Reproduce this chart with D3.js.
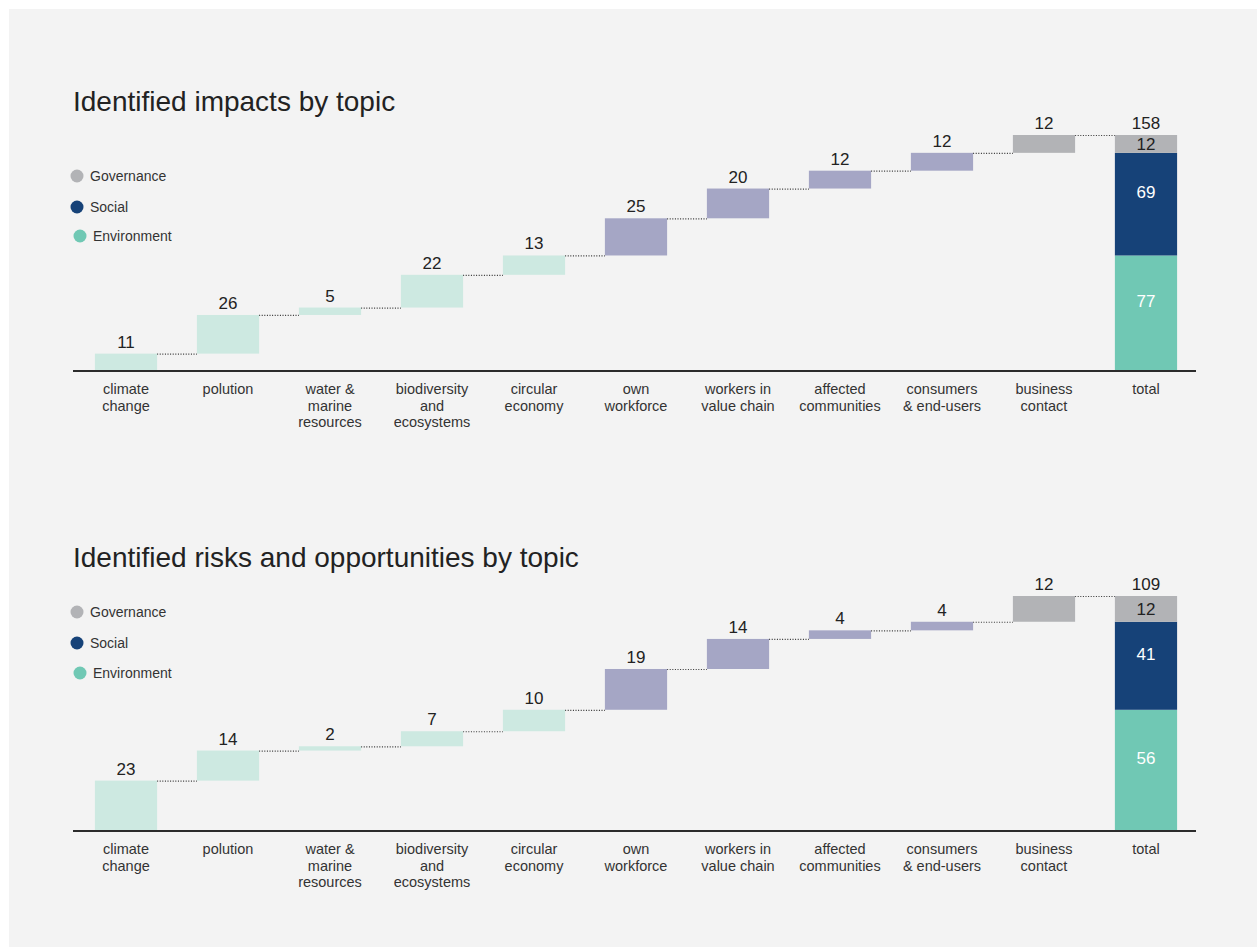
<!DOCTYPE html>
<html>
<head>
<meta charset="utf-8">
<script src="https://cdn.jsdelivr.net/npm/d3@7"></script>
<style>
    body { margin: 0; background: #fff; }
    svg { display: block; font-family: "Liberation Sans", Arial, sans-serif; }
    .chart-title { font-size: 28px; fill: #222; }
    .legend-label { font-size: 14px; fill: #333; }
    .value-label { font-size: 17px; fill: #222; text-anchor: middle; }
    .cat-label { font-size: 14.5px; fill: #333; text-anchor: middle; }
    .connector { stroke: #333; stroke-width: 1.2; stroke-dasharray: 1 1.6; }
    .baseline { stroke: #2b2b2b; stroke-width: 2; }
</style>
</head>
<body>
<script>

// Data ////////////////////////////////////

const categories = [
    "climate\nchange", "polution", "water &\nmarine\nresources", "biodiversity\nand\necosystems",
    "circular\neconomy", "own\nworkforce", "workers in\nvalue chain", "affected\ncommunities",
    "consumers\n& end-users", "business\ncontact"
];
const totalLabel = "total";
const pillars = [
    "Environment", "Environment", "Environment", "Environment", "Environment",
    "Social", "Social", "Social", "Social", "Governance"
];
const legendPillars = ["Governance", "Social", "Environment"];
const impactValues = [11, 26, 5, 22, 13, 25, 20, 12, 12, 12];
const riskValues = [23, 14, 2, 7, 10, 19, 14, 4, 4, 12];

const barColor = { Environment: "#cde9e1", Social: "#a5a6c5", Governance: "#b2b3b6" };
const totalColor = { Environment: "#70c8b4", Social: "#164278", Governance: "#b2b3b6" };
const totalText = { Environment: "#fff", Social: "#fff", Governance: "#222" };

// Layout ////////////////////////////////////

const dim = { width: 1257, height: 949 };

const x = d3.scaleBand()
    .domain([...categories, totalLabel])
    .range([74.5, 1197.5])
    .paddingInner(0.39)
    .paddingOuter(0.2);

const svg = d3.select("body").append("svg")
    .attr("width", dim.width)
    .attr("height", dim.height);

svg.append("rect")
    .attr("x", 9).attr("y", 9)
    .attr("width", dim.width - 9)
    .attr("height", dim.height - 11)
    .style("fill", "#f3f3f3");

drawWaterfall(svg, {
    title: "Identified impacts by topic",
    values: impactValues,
    titleY: 111,
    legendY: [176, 207, 236],
    baseline: 370,
    top: 135
});

drawWaterfall(svg, {
    title: "Identified risks and opportunities by topic",
    values: riskValues,
    titleY: 567,
    legendY: [612, 643, 673],
    baseline: 830,
    top: 596
});

function drawWaterfall(svg, opts) {

    const g = svg.append("g");

    // cumulative steps
    let acc = 0;
    const steps = opts.values.map((v, i) => {
        const s = { cat: categories[i], pillar: pillars[i], value: v, y0: acc, y1: acc + v };
        acc += v;
        return s;
    });
    const total = acc;

    const y = d3.scaleLinear()
        .domain([0, total])
        .range([opts.baseline, opts.top]);

    // title
    g.append("text")
        .attr("class", "chart-title")
        .attr("x", 73)
        .attr("y", opts.titleY)
        .text(opts.title);

    // legend
    const legend = g.append("g")
        .selectAll("g")
        .data(legendPillars)
        .join("g")
        .attr("transform", (d, i) => `translate(${ d === "Environment" ? 80 : 77 }, ${ opts.legendY[i] })`);
    legend.append("circle")
        .attr("r", 6.5)
        .style("fill", d => totalColor[d]);
    legend.append("text")
        .attr("class", "legend-label")
        .attr("x", 13)
        .attr("dy", "0.35em")
        .text(d => d);

    // connectors
    g.append("g")
        .selectAll("line")
        .data(steps)
        .join("line")
        .attr("class", "connector")
        .attr("x1", d => x(d.cat) + x.bandwidth())
        .attr("x2", (d, i) => x(i + 1 < steps.length ? steps[i + 1].cat : totalLabel))
        .attr("y1", d => y(d.y1) + 0.5)
        .attr("y2", d => y(d.y1) + 0.5);

    // floating bars
    g.append("g")
        .selectAll("rect")
        .data(steps)
        .join("rect")
        .attr("x", d => x(d.cat))
        .attr("width", x.bandwidth())
        .attr("y", d => y(d.y1))
        .attr("height", d => y(d.y0) - y(d.y1))
        .style("fill", d => barColor[d.pillar]);

    g.append("g")
        .selectAll("text")
        .data(steps)
        .join("text")
        .attr("class", "value-label")
        .attr("x", d => x(d.cat) + x.bandwidth() / 2)
        .attr("y", d => y(d.y1) - 6)
        .text(d => d.value);

    // total stack
    let base = 0;
    const stack = ["Environment", "Social", "Governance"].map(p => {
        const v = d3.sum(steps.filter(s => s.pillar === p), s => s.value);
        const s = { pillar: p, value: v, y0: base, y1: base + v };
        base += v;
        return s;
    });

    g.append("g")
        .selectAll("rect")
        .data(stack)
        .join("rect")
        .attr("x", x(totalLabel))
        .attr("width", x.bandwidth())
        .attr("y", d => y(d.y1))
        .attr("height", d => y(d.y0) - y(d.y1))
        .style("fill", d => totalColor[d.pillar]);

    g.append("g")
        .selectAll("text")
        .data(stack)
        .join("text")
        .attr("class", "value-label")
        .attr("x", x(totalLabel) + x.bandwidth() / 2)
        .attr("y", d => {
            const h = y(d.y0) - y(d.y1);
            return h < 30 ? (y(d.y0) + y(d.y1)) / 2 + 6 : (y(d.y0) + y(d.y1)) / 2 - 6;
        })
        .style("fill", d => totalText[d.pillar])
        .text(d => d.value);

    g.append("text")
        .attr("class", "value-label")
        .attr("x", x(totalLabel) + x.bandwidth() / 2)
        .attr("y", y(total) - 6)
        .text(total);

    // baseline + category labels
    g.append("line")
        .attr("class", "baseline")
        .attr("x1", 73).attr("x2", 1196)
        .attr("y1", opts.baseline + 1).attr("y2", opts.baseline + 1);

    g.append("g")
        .selectAll("text")
        .data([...categories, totalLabel])
        .join("text")
        .attr("class", "cat-label")
        .attr("x", d => x(d) + x.bandwidth() / 2)
        .attr("y", opts.baseline + 24)
        .selectAll("tspan")
        .data(d => d.split("\n"))
        .join("tspan")
        .attr("x", function () { return this.parentNode.getAttribute("x"); })
        .attr("dy", (d, i) => i === 0 ? 0 : 16.5)
        .text(d => d);
}

</script>
</body>
</html>
